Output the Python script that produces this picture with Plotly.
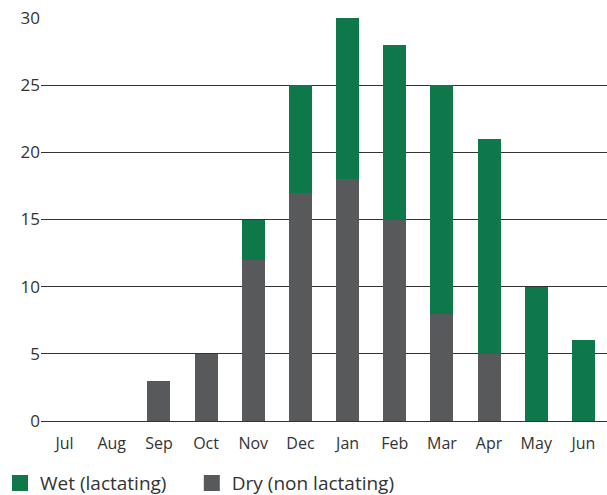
import plotly.graph_objects as go

months = ["Jul", "Aug", "Sep", "Oct", "Nov", "Dec", "Jan", "Feb", "Mar", "Apr", "May", "Jun"]
dry = [0, 0, 3, 5, 12, 17, 18, 15, 8, 5, 0, 0]
wet = [0, 0, 0, 0, 3, 8, 12, 13, 17, 16, 10, 6]
y_ticks = [0, 5, 10, 15, 20, 25, 30]

GREEN = "#0e784b"
GRAY = "#58595b"
TEXT = "#333333"

fig = go.Figure()
fig.add_trace(go.Bar(x=months, y=dry, name="Dry (non lactating)", marker_color=GRAY,
                     marker_line_width=0, showlegend=False))
fig.add_trace(go.Bar(x=months, y=wet, name="Wet (lactating)", marker_color=GREEN,
                     marker_line_width=0, showlegend=False))
# legend entries with larger square swatches
fig.add_trace(go.Scatter(x=[None], y=[None], mode="markers", name="Wet (lactating)",
                         marker=dict(symbol="square", size=17, color=GREEN), legend="legend"))
fig.add_trace(go.Scatter(x=[None], y=[None], mode="markers", name="Dry (non lactating)",
                         marker=dict(symbol="square", size=17, color=GRAY), legend="legend2"))

leg_common = dict(orientation="h", xref="container", yref="container",
                  xanchor="left", y=0.024, yanchor="middle",
                  font=dict(size=19, color=TEXT), itemsizing="trace",
                  bgcolor="rgba(0,0,0,0)")

fig.update_layout(
    width=607, height=495,
    barmode="stack", bargap=0.51,
    margin=dict(l=41, r=0, t=18, b=74, autoexpand=False),
    plot_bgcolor="white", paper_bgcolor="white",
    font=dict(family="Open Sans, sans-serif", size=16, color=TEXT),
    legend=dict(x=-0.006, **leg_common),
    legend2=dict(x=0.316, **leg_common),
    showlegend=True,
)
fig.update_xaxes(showgrid=False, showline=False, ticks="outside", ticklen=8,
                 tickcolor="rgba(0,0,0,0)", automargin=False,
                 tickfont=dict(size=16, color=TEXT))
fig.update_yaxes(range=[0, 30], tickvals=y_ticks, showgrid=True, gridcolor="#333333",
                 gridwidth=1, zeroline=True, zerolinecolor="#333333", zerolinewidth=1,
                 showline=False, ticks="", automargin=False,
                 tickfont=dict(size=17, color=TEXT))

fig.write_html("out.html", config={"displayModeBar": False},
               post_script="document.body.style.margin='0';document.body.style.overflow='hidden';")
